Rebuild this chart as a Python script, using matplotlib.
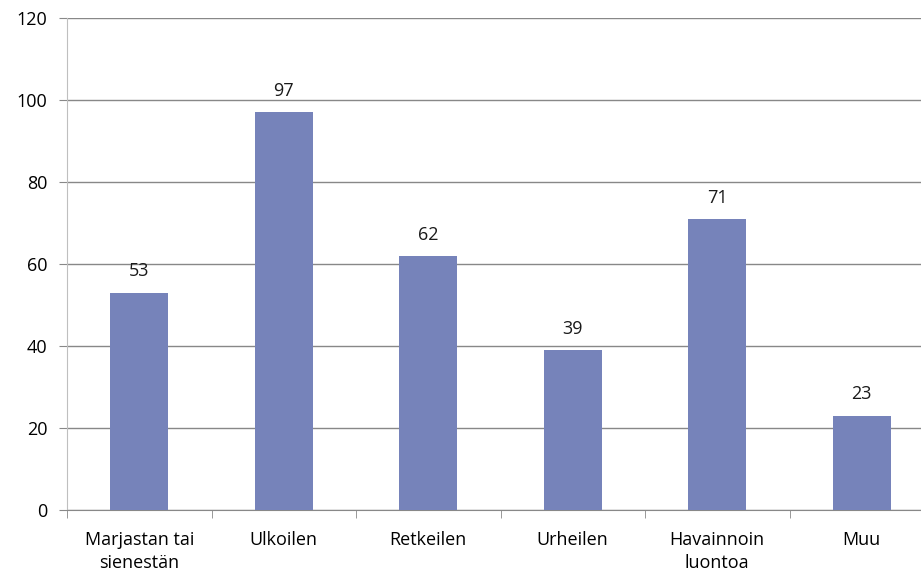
import numpy as np
import matplotlib
matplotlib.use("Agg")
import matplotlib.pyplot as plt

# Chart data
categories = ["Marjastan tai\nsienestän", "Ulkoilen", "Retkeilen", "Urheilen", "Havainnoin\nluontoa", "Muu"]
values = [53, 97, 62, 39, 71, 23]
yticks = [0, 20, 40, 60, 80, 100, 120]

plt.rcParams["font.family"] = ["Open Sans", "DejaVu Sans"]

fs = 13
fig = plt.figure(figsize=(9.21, 5.79), dpi=100)
# plot area runs past the right edge, like the original
ax = fig.add_axes([67 / 921, 69 / 579, 867 / 921, 492 / 579])

x = np.arange(len(categories))
ax.bar(x, values, width=0.4, color="#7683BA", zorder=3)

for xi, v in zip(x, values):
    ax.text(xi, v + 3, str(v), ha="center", va="bottom", fontsize=fs, color="#1a1a1a")

ax.set_xlim(-0.5, len(categories) - 0.5)
ax.set_ylim(0, 120)
ax.set_yticks(yticks)
ax.set_yticklabels([str(t) for t in yticks], fontsize=fs)
ax.grid(axis="y", color="#888888", linewidth=1, zorder=0)

# category labels, ticks between categories
ax.set_xticks(x)
ax.set_xticklabels(categories, fontsize=fs, linespacing=1.4)
ax.tick_params(axis="x", length=0, pad=15)
ax.set_xticks(np.arange(len(categories) + 1) - 0.5, minor=True)
ax.tick_params(axis="x", which="minor", length=6, color="#888888")
ax.tick_params(axis="y", length=6, color="#888888", pad=8)

for side in ["top", "right"]:
    ax.spines[side].set_visible(False)
ax.spines["left"].set_color("#BFBFBF")
ax.spines["bottom"].set_color("#888888")

fig.savefig("out.png", dpi=100)
